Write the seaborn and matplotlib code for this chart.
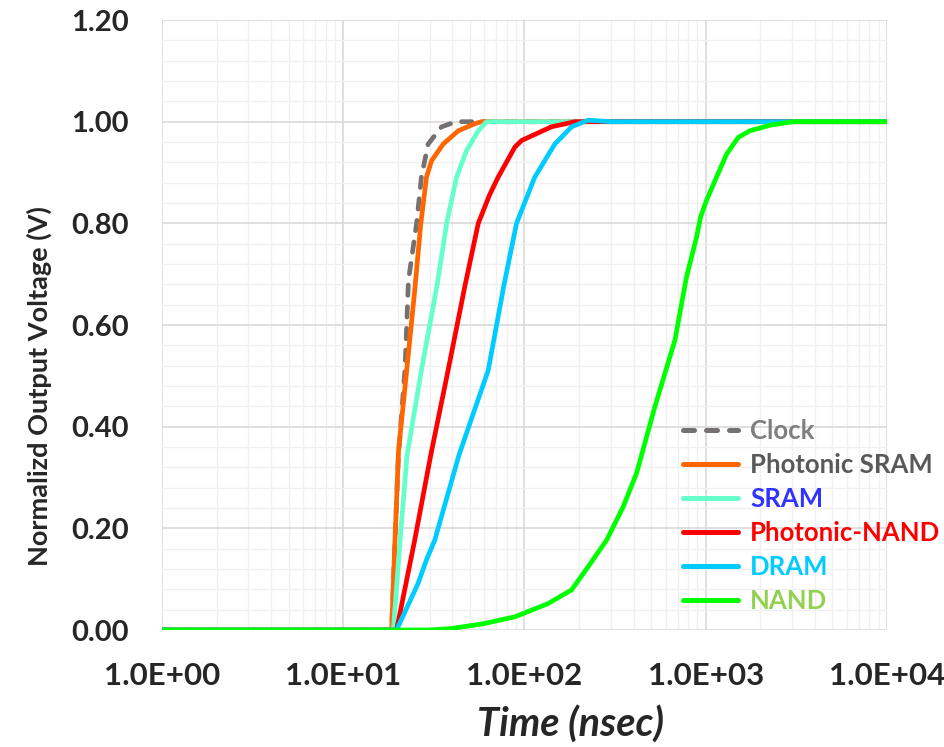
import numpy as np
import pandas as pd
import matplotlib
matplotlib.use('Agg')
import matplotlib.pyplot as plt
from matplotlib.ticker import FuncFormatter, LogLocator, MultipleLocator
import seaborn as sns

# 数据
clock_t = [1, 18.5, 20.1, 21.9, 22.9, 25.4, 27.0, 29.4, 34.9, 42, 10000]
clock_v = [0, 0, 0.334, 0.511, 0.688, 0.80, 0.891, 0.956, 0.99, 1.0, 1.0]

psram_t = [1, 18.5, 19.3, 20.2, 22.4, 24.8, 26.8, 28.8, 30.7, 35.6, 43.1, 53.2, 58, 10000]
psram_v = [0, 0, 0.177, 0.354, 0.511, 0.668, 0.80, 0.891, 0.923, 0.956, 0.982, 0.996, 1.0, 1.0]

sram_t = [1, 18.9, 20.6, 22.5, 27.0, 33.0, 37.2, 42.2, 47.9, 55.6, 61.8, 10000]
sram_v = [0, 0, 0.177, 0.344, 0.511, 0.68, 0.80, 0.891, 0.943, 0.982, 1.0, 1.0]

pnand_t = [1, 19.7, 24.8, 30.4, 37.9, 47, 55.6, 64, 71.6, 88.5, 96.4, 141, 190, 10000]
pnand_v = [0, 0, 0.177, 0.344, 0.511, 0.678, 0.80, 0.855, 0.891, 0.95, 0.963, 0.99, 1.0, 1.0]

dram_t = [1, 19.7, 25.9, 28.8, 32.0, 43.5, 63.1, 77, 90.4, 114, 147, 182, 225, 300, 10000]
dram_v = [0, 0, 0.092, 0.138, 0.177, 0.344, 0.511, 0.678, 0.80, 0.891, 0.956, 0.99, 1.003,
          1.0, 1.0]

nand_t = [1, 29.4, 39.7, 60.5, 88.5, 135, 182, 225, 284, 350, 415, 524, 676, 783, 890,
          936, 1009, 1147, 1303, 1511, 1750, 2258, 3034, 10000]
nand_v = [0, 0, 0.003, 0.013, 0.026, 0.052, 0.079, 0.125, 0.177, 0.242, 0.308, 0.439,
          0.570, 0.694, 0.773, 0.812, 0.845, 0.891, 0.936, 0.969, 0.982, 0.993, 1.0, 1.0]

series_names = ['Clock', 'Photonic SRAM', 'SRAM', 'Photonic-NAND', 'DRAM', 'NAND']
series_t = [clock_t, psram_t, sram_t, pnand_t, dram_t, nand_t]
series_v = [clock_v, psram_v, sram_v, pnand_v, dram_v, nand_v]
line_colors = ['#767171', '#FF6600', '#66FFCC', '#FF0000', '#00CCFF', '#00FF00']
text_colors = ['#7F7F7F', '#595959', '#3333FF', '#FF0000', '#00CCFF', '#92D050']

sns.set_style('white')
plt.rcParams['font.family'] = ['Lato', 'DejaVu Sans']

fig = plt.figure(figsize=(9.45, 7.47), dpi=100)
ax = fig.add_axes([0.1714, 0.1566, 0.7672, 0.8166])

for name, t, v, c in zip(series_names, series_t, series_v, line_colors):
    df = pd.DataFrame({'t': t, 'v': v})
    sns.lineplot(data=df, x='t', y='v', ax=ax, color=c, lw=3.4, label=name,
                 sort=False, estimator=None)
    ln = ax.lines[-1]
    ln.set_solid_capstyle('round')
    ln.set_solid_joinstyle('round')
    if name == 'Clock':
        ln.set_dashes([2.2, 2.4])
        ln.set_dash_capstyle('round')

ax.set_xscale('log')
ax.set_xlim(1, 1e4)
ax.set_ylim(0, 1.2)
ax.yaxis.set_major_locator(MultipleLocator(0.2))
ax.yaxis.set_minor_locator(MultipleLocator(0.04))
ax.xaxis.set_major_locator(LogLocator(base=10))
ax.xaxis.set_minor_locator(LogLocator(base=10, subs=np.arange(2, 10)))
ax.xaxis.set_major_formatter(FuncFormatter(lambda x, p: f'{x:.1E}'))
ax.yaxis.set_major_formatter(FuncFormatter(lambda y, p: f'{y:.2f}'))

ax.grid(which='major', color='#D9D9D9', lw=1.2)
ax.grid(which='minor', color='#F0F0F0', lw=1.0)
ax.set_axisbelow(True)
for s in ax.spines.values():
    s.set_visible(False)
ax.tick_params(which='both', length=0)
ax.tick_params(axis='x', pad=23)
ax.tick_params(axis='y', pad=24)
for lab in ax.get_xticklabels():
    lab.set_fontsize(22.5)
    lab.set_fontweight('bold')
for lab in ax.get_yticklabels():
    lab.set_fontsize(21)
    lab.set_fontweight('bold')

ax.set_xlabel('Time (nsec)', fontsize=28.5, fontweight='bold', style='italic')
ax.xaxis.set_label_coords(0.564, -0.122)
ax.set_ylabel('Normalizd Output Voltage (V)', fontsize=19.5, fontweight='bold')
ax.yaxis.set_label_coords(-0.152, 0.40)

leg = ax.legend(loc='upper left', bbox_to_anchor=(0.7186, 0.346), frameon=False,
                borderaxespad=0, borderpad=0, handlelength=2.14, handletextpad=0.47,
                labelspacing=0.39, prop={'weight': 'bold', 'size': 18.5})
for txt, c in zip(leg.get_texts(), text_colors):
    txt.set_color(c)
for h in leg.get_lines():
    h.set_linewidth(3.6)
    h.set_solid_capstyle('round')

plt.savefig('out.png', dpi=100, facecolor='white')
plt.close()
